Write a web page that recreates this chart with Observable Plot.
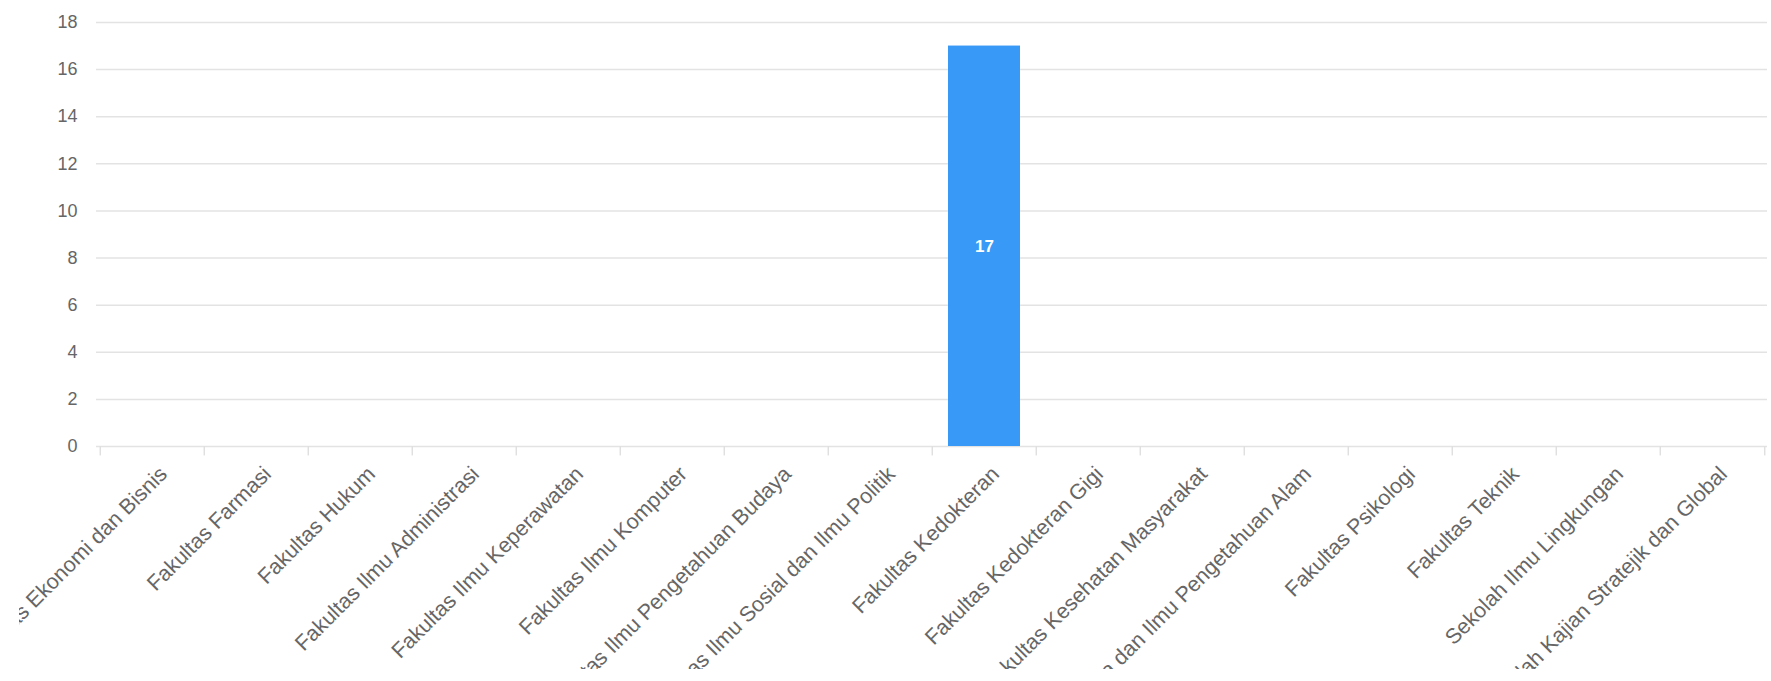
<!DOCTYPE html>
<html>
<head>
<meta charset="utf-8">
<script src="https://cdn.jsdelivr.net/npm/d3@7"></script>
<script src="https://cdn.jsdelivr.net/npm/@observablehq/plot@0.6"></script>
<style>
  html, body { margin: 0; padding: 0; background: #fff; overflow: hidden; }
  #chart svg { display: block; clip-path: inset(0 0 0 19px); }
</style>
</head>
<body>
<div id="chart"></div>
<script>
const categories = [
  "Fakultas Ekonomi dan Bisnis",
  "Fakultas Farmasi",
  "Fakultas Hukum",
  "Fakultas Ilmu Administrasi",
  "Fakultas Ilmu Keperawatan",
  "Fakultas Ilmu Komputer",
  "Fakultas Ilmu Pengetahuan Budaya",
  "Fakultas Ilmu Sosial dan Ilmu Politik",
  "Fakultas Kedokteran",
  "Fakultas Kedokteran Gigi",
  "Fakultas Kesehatan Masyarakat",
  "Fakultas Matematika dan Ilmu Pengetahuan Alam",
  "Fakultas Psikologi",
  "Fakultas Teknik",
  "Sekolah Ilmu Lingkungan",
  "Sekolah Kajian Stratejik dan Global"
];
const values = [0, 0, 0, 0, 0, 0, 0, 0, 17, 0, 0, 0, 0, 0, 0, 0];
const yTicks = [0, 2, 4, 6, 8, 10, 12, 14, 16, 18];

const data = categories.map((c, i) => ({category: c, value: values[i]}));
const nonZero = data.filter(d => d.value > 0);

const W = 1771, H = 669;
const mL = 96, mR = 4, mT = 22, mB = 223;
const step = (W - mL - mR) / categories.length;
const font = "Liberation Sans, Arial, Helvetica, sans-serif";
const textColor = "#666";

const chart = Plot.plot({
  width: W,
  height: H,
  marginLeft: mL,
  marginRight: mR,
  marginTop: mT,
  marginBottom: mB,
  style: {fontFamily: font, background: "#fff", overflow: "hidden"},
  x: {domain: categories, padding: 0, label: null},
  y: {domain: [0, 18], ticks: yTicks, label: null},
  marks: [
    Plot.gridY(yTicks, {stroke: "#e3e3e3", strokeOpacity: 1, strokeWidth: 1.5}),
    // band-boundary tick marks under the baseline
    Plot.ruleX(categories, {x: d => d, y1: 0, y2: -0.4, dx: -step / 2, stroke: "#e0e0e0", strokeWidth: 1.5}),
    Plot.ruleX(categories.slice(-1), {x: d => d, y1: 0, y2: -0.4, dx: step / 2, stroke: "#e0e0e0", strokeWidth: 1.5}),
    Plot.barY(data, {x: "category", y: "value", fill: "#3899f6", insetLeft: 16, insetRight: 16}),
    Plot.text(nonZero, {x: "category", y: d => d.value / 2, text: d => String(d.value), fill: "#fff", fontWeight: "bold", fontSize: 17, fontFamily: font}),
    Plot.axisY(yTicks, {tickSize: 0, tickPadding: 19, fontSize: 18, fill: textColor, fontFamily: font}),
    Plot.axisX({tickSize: 0, tickPadding: 24, dx: 11, tickRotate: -45, fontSize: 21.5, fill: textColor, fontFamily: font, label: null})
  ]
});
document.getElementById("chart").appendChild(chart);
</script>
</body>
</html>
